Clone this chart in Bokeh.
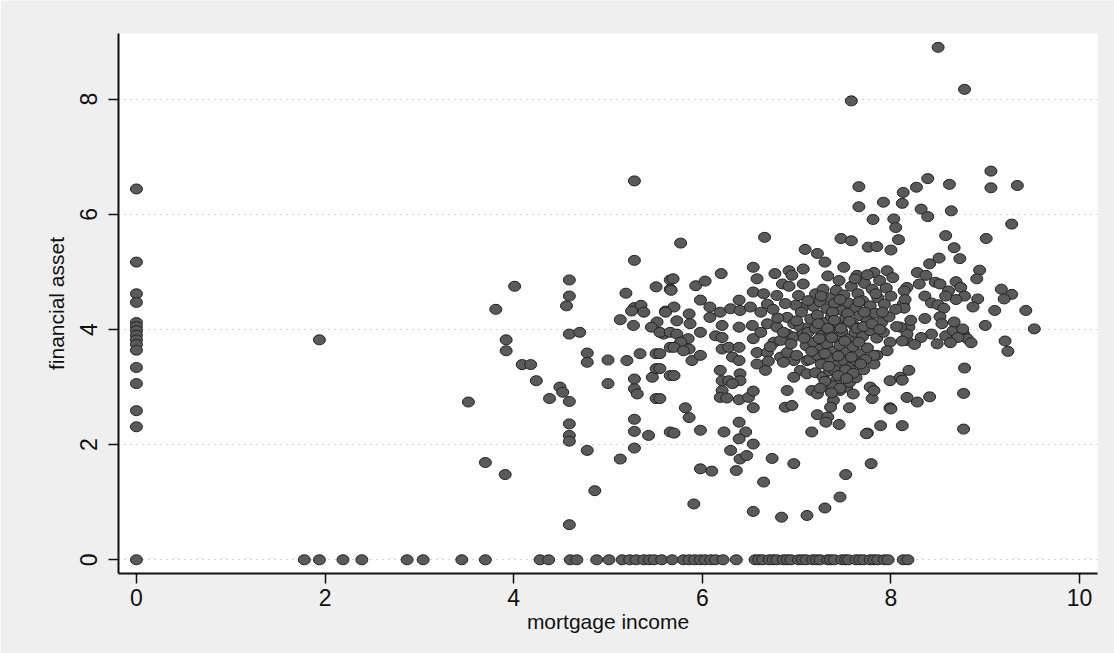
from bokeh.plotting import figure
from bokeh.models import Range1d, FixedTicker, ColumnDataSource
from bokeh.embed import file_html
from bokeh.resources import INLINE

# financial asset values of observations with zero mortgage income
zero_income_asset = [6.44, 5.17, 4.62, 4.47, 4.12, 4.05, 3.98, 3.90, 3.82, 3.74,
                     3.64, 3.34, 3.06, 2.59, 2.31]

# mortgage income values of observations with zero financial asset
zero_asset_income = [0.0, 1.78, 1.94, 2.19, 2.39, 2.87, 3.04, 3.45, 3.70, 4.28,
                     4.37, 4.60, 4.67, 4.88, 5.01, 5.15, 5.23, 5.30, 5.38, 5.44,
                     5.49, 5.57, 5.68, 5.80, 5.86, 5.92, 5.98, 6.03, 6.09, 6.14,
                     6.22, 6.36, 6.56, 6.60, 6.64, 6.71, 6.75, 6.79, 6.86, 6.90,
                     6.94, 7.02, 7.06, 7.10, 7.17, 7.21, 7.25, 7.33, 7.36, 7.40,
                     7.48, 7.52, 7.55, 7.63, 7.67, 7.71, 7.78, 7.82, 7.86, 7.93,
                     7.97, 8.13, 8.18]

# remaining observations: (mortgage income, financial asset)
income = [
    1.94, 3.52, 3.70, 3.91, 3.81, 4.01, 3.92, 3.92, 4.09, 4.18,
    4.24, 4.38, 4.49, 4.52, 4.59, 4.59, 4.59, 4.56, 4.59, 4.70,
    4.78, 4.78, 5.00, 5.20, 5.34, 5.51, 5.66, 4.59, 4.59, 4.59,
    4.78, 4.86, 4.59, 5.13, 5.00, 5.28, 5.28, 5.31, 5.47, 5.51,
    5.51, 5.66, 5.28, 5.28, 5.43, 5.28, 5.66, 5.28, 5.28, 5.19,
    5.51, 5.66, 5.66, 5.28, 5.35, 5.38, 5.25, 5.13, 5.27, 5.61,
    5.52, 5.46, 5.59,
    5.77, 6.66, 5.69, 6.20, 6.54, 6.58, 6.77, 6.92, 7.07, 6.95,
    5.93, 6.03, 5.67, 6.85, 6.92, 7.07, 5.98, 6.39, 6.54, 6.65,
    6.79, 6.69, 7.02, 7.07, 6.99, 5.70, 5.61, 5.73, 5.86, 5.87,
    6.08, 6.08, 6.19, 6.30, 6.40, 6.51, 6.62, 5.55, 5.66, 5.73,
    5.98, 5.85, 5.77, 5.70, 6.21, 6.14, 6.21, 6.39, 6.53, 6.69,
    6.79, 6.54, 6.90, 6.97, 7.04, 7.13, 6.90, 6.97, 7.07, 6.76,
    6.83, 5.86, 5.80, 5.89, 5.98, 6.21, 6.28, 6.32, 6.39, 6.39,
    6.58, 6.69, 6.58, 6.67, 6.83, 6.90, 6.97, 7.11, 7.04, 6.97,
    7.11, 6.86, 5.55, 5.55, 5.70, 6.19, 6.21, 6.28, 6.40, 6.40,
    6.32, 6.21, 5.55, 6.19, 6.26, 6.39, 6.49, 6.54, 6.54, 6.90,
    6.88, 6.95, 5.82, 5.86, 5.70, 5.98, 6.23, 6.39, 6.46, 6.39,
    6.54, 6.30, 6.40, 6.47, 6.36, 5.98, 6.10, 6.74, 6.97, 6.65,
    5.91, 6.54, 6.84, 7.11, 7.30, 7.46, 7.52, 7.79, 7.16, 7.75,
    7.89, 8.12, 7.45, 7.22, 7.33, 7.31, 7.56, 7.99, 8.17, 7.80,
    7.78, 7.82, 7.16, 7.22, 7.39, 7.36, 7.46, 7.53, 7.60, 7.32,
    7.99, 8.10, 8.19, 8.17, 8.19, 8.13, 8.17, 7.99, 7.96, 7.85,
    7.82,
    8.50, 8.78, 7.58, 7.66, 8.13, 7.92, 8.12, 7.66, 7.81, 8.03,
    8.05, 8.08, 7.47, 7.58, 7.76, 7.85, 8.00, 7.09, 7.22, 7.30,
    7.50, 7.64, 7.82, 7.96, 8.27, 8.39, 8.62, 9.06, 9.06, 9.34,
    9.28, 9.01, 8.64, 8.32, 8.39, 8.58, 8.67, 8.73, 8.51, 8.41,
    8.94, 8.91, 8.92, 8.87, 9.10, 9.17, 9.28, 9.20, 9.43, 9.52,
    9.00, 9.21, 9.24, 8.78, 8.77, 8.77, 8.41, 8.28, 8.00, 7.74,
    8.49, 8.58, 8.77, 8.81, 8.66,
    8.28, 8.37, 8.30, 8.47, 8.52, 8.69, 8.74, 8.78, 8.61, 8.69,
    8.58, 8.14, 8.15, 8.14, 8.36, 8.43, 8.50, 8.56, 8.52, 8.54,
    8.67, 8.76, 8.71, 8.85, 8.63, 8.21, 8.36, 8.43, 8.32, 8.25,
    8.17, 8.10, 8.12, 8.12,
    7.20, 7.28, 7.35, 7.42, 7.50, 7.58, 7.65, 7.72, 7.80, 7.88,
    7.95, 8.02, 7.62, 7.45, 7.33, 7.75,
    7.18, 7.25, 7.32, 7.40, 7.48, 7.55, 7.63, 7.70, 7.78, 7.86,
    7.93, 8.00, 8.05,
    7.15, 7.22, 7.30, 7.37, 7.44, 7.52, 7.60, 7.67, 7.75, 7.83,
    7.90, 7.98, 8.06,
    7.12, 7.20, 7.27, 7.34, 7.41, 7.48, 7.55, 7.62, 7.70, 7.78,
    7.85, 7.92,
    7.10, 7.18, 7.25, 7.32, 7.39, 7.46, 7.53, 7.60, 7.68, 7.75,
    7.82,
    7.14, 7.22, 7.29, 7.36, 7.43, 7.50, 7.57, 7.64, 7.71,
    7.20, 7.28, 7.35, 7.42, 7.49, 7.56, 7.63, 7.38, 7.46,
    7.05, 7.12, 7.26, 7.38, 7.46, 7.54, 7.66, 7.72, 7.84, 7.91,
    7.08, 7.16, 7.24, 7.30, 7.37, 7.44, 7.51, 7.58, 7.66, 7.73,
    7.23, 7.33, 7.40, 7.47, 7.56, 7.64, 7.71, 7.80, 7.88, 7.40,
    7.26, 7.34, 7.52, 7.60, 7.68, 7.30, 7.44, 7.53, 7.25, 7.37,
    6.62, 6.72, 6.80, 6.86, 6.94, 7.00, 6.75, 6.88, 7.00, 6.70,
]
asset = [
    3.82, 2.74, 1.69, 1.48, 4.35, 4.75, 3.82, 3.63, 3.39, 3.39,
    3.11, 2.80, 3.00, 2.91, 2.75, 4.86, 4.58, 4.41, 3.92, 3.95,
    3.59, 3.43, 3.47, 3.46, 3.58, 3.58, 3.69, 2.36, 2.16, 2.06,
    1.90, 1.20, 0.61, 1.75, 3.06, 3.14, 2.97, 2.88, 3.17, 3.32,
    2.80, 3.20, 2.44, 2.23, 2.16, 1.94, 2.22, 6.58, 5.20, 4.63,
    4.74, 4.86, 4.70, 4.38, 4.42, 4.30, 4.32, 4.17, 4.07, 4.32,
    4.13, 4.04, 3.92,
    5.50, 5.60, 4.88, 4.97, 5.08, 4.88, 4.97, 5.02, 5.05, 4.94,
    4.76, 4.84, 4.68, 4.79, 4.75, 4.79, 4.51, 4.51, 4.65, 4.62,
    4.59, 4.44, 4.59, 4.39, 4.42, 4.39, 4.30, 4.15, 4.27, 4.10,
    4.39, 4.21, 4.30, 4.36, 4.33, 4.39, 4.30, 3.95, 3.95, 3.92,
    3.95, 3.84, 3.78, 3.69, 4.07, 3.89, 3.86, 4.04, 4.07, 4.10,
    4.04, 3.84, 4.21, 4.10, 4.04, 4.04, 3.92, 3.87, 3.92, 3.78,
    3.81, 3.66, 3.63, 3.46, 3.55, 3.66, 3.69, 3.52, 3.46, 3.69,
    3.60, 3.60, 3.40, 3.29, 3.52, 3.60, 3.46, 3.46, 3.29, 3.17,
    3.23, 3.43, 3.58, 3.32, 3.20, 3.29, 3.11, 3.11, 3.23, 3.11,
    3.06, 2.94, 2.80, 2.82, 2.81, 2.78, 2.82, 2.93, 2.64, 2.94,
    2.65, 2.68, 2.64, 2.47, 2.20, 2.25, 2.22, 2.39, 2.22, 2.10,
    2.01, 1.90, 1.75, 1.81, 1.55, 1.58, 1.54, 1.76, 1.67, 1.35,
    0.97, 0.84, 0.74, 0.77, 0.90, 1.09, 1.48, 1.67, 2.22, 2.20,
    2.33, 2.33, 2.35, 2.52, 2.48, 2.39, 2.64, 2.64, 2.82, 2.80,
    3.00, 2.94, 2.94, 2.88, 2.77, 2.65, 2.94, 3.00, 2.88, 3.00,
    3.11, 3.17, 3.29, 3.81, 4.04, 4.44, 4.73, 3.78, 3.63, 3.55,
    3.40,
    8.90, 8.17, 7.97, 6.48, 6.38, 6.21, 6.19, 6.13, 5.91, 5.92,
    5.77, 5.56, 5.58, 5.54, 5.43, 5.44, 5.38, 5.39, 5.32, 5.17,
    5.08, 4.94, 4.99, 5.02, 6.47, 6.62, 6.52, 6.75, 6.46, 6.50,
    5.83, 5.58, 6.06, 6.09, 5.96, 5.63, 5.42, 5.23, 5.24, 5.14,
    5.03, 4.88, 4.53, 4.39, 4.33, 4.70, 4.61, 4.53, 4.33, 4.01,
    4.07, 3.80, 3.62, 3.33, 2.89, 2.27, 2.83, 2.74, 2.62, 2.19,
    3.75, 3.89, 3.92, 3.84, 3.98,
    4.99, 4.94, 4.79, 4.82, 4.79, 4.83, 4.73, 4.58, 4.67, 4.52,
    4.58, 4.67, 4.52, 4.37, 4.58, 4.46, 4.43, 4.37, 4.22, 4.10,
    4.13, 4.01, 3.86, 3.77, 3.77, 4.16, 4.19, 3.92, 3.86, 3.74,
    3.92, 4.04, 3.80, 3.12,
    4.62, 4.70, 4.55, 4.68, 4.60, 4.75, 4.62, 4.80, 4.70, 4.85,
    4.72, 4.90, 4.88, 4.85, 4.93, 4.95,
    4.40, 4.48, 4.36, 4.45, 4.33, 4.46, 4.38, 4.50, 4.41, 4.55,
    4.44, 4.58, 4.35,
    4.18, 4.25, 4.12, 4.22, 4.10, 4.20, 4.08, 4.24, 4.15, 4.28,
    4.12, 4.22, 4.05,
    3.95, 4.02, 3.90, 3.98, 3.86, 3.96, 3.84, 3.95, 3.88, 3.98,
    3.85, 3.95,
    3.72, 3.78, 3.66, 3.75, 3.62, 3.72, 3.60, 3.70, 3.58, 3.68,
    3.55,
    3.48, 3.55, 3.42, 3.50, 3.38, 3.46, 3.35, 3.44, 3.30,
    3.25, 3.18, 3.28, 3.12, 3.22, 3.08, 3.16, 3.02, 2.98,
    4.30, 4.50, 4.58, 4.30, 4.52, 4.28, 4.48, 4.30, 4.62, 4.30,
    3.85, 3.62, 3.84, 3.58, 3.86, 3.54, 3.80, 3.52, 3.78, 3.48,
    4.10, 4.02, 4.16, 4.02, 4.14, 4.02, 4.05, 4.10, 4.00, 3.30,
    3.40, 3.36, 3.30, 3.24, 3.40, 3.10, 3.20, 3.15, 2.98, 2.90,
    3.95, 3.70, 4.20, 3.95, 3.75, 4.15, 4.35, 4.45, 3.55, 3.45,
]

n = min(len(income), len(asset))
xs = [0.0] * len(zero_income_asset) + zero_asset_income + income[:n]
ys = zero_income_asset + [0.0] * len(zero_asset_income) + asset[:n]
src = ColumnDataSource(data=dict(x=xs, y=ys))

p = figure(width=1114, height=653, output_backend="svg", toolbar_location=None,
           x_range=Range1d(-0.19, 10.19), y_range=Range1d(-0.238, 9.14),
           min_border_left=118, min_border_right=17, min_border_top=33,
           min_border_bottom=80)

p.ellipse(x="x", y="y", width=12, height=10, width_units="screen",
          height_units="screen", fill_color="#5a5a5a", line_color="#222222",
          line_width=1, source=src)

p.xaxis.ticker = FixedTicker(ticks=[0, 2, 4, 6, 8, 10])
p.yaxis.ticker = FixedTicker(ticks=[0, 2, 4, 6, 8])
p.axis.minor_tick_line_color = None
p.axis.major_tick_out = 10
p.axis.major_tick_in = 0
p.axis.major_tick_line_color = "#111111"
p.axis.major_tick_line_width = 1.5
p.axis.axis_line_color = "#111111"
p.axis.axis_line_width = 2
p.axis.major_label_text_font = "Liberation Sans"
p.axis.major_label_text_font_size = "23px"
p.axis.major_label_text_color = "#111111"
p.xaxis.major_label_standoff = 5
p.yaxis.major_label_standoff = 11
p.yaxis.major_label_orientation = "vertical"
p.xaxis.axis_label = "mortgage income"
p.yaxis.axis_label = "financial asset"
p.axis.axis_label_text_font = "Liberation Sans"
p.axis.axis_label_text_font_size = "21px"
p.axis.axis_label_text_font_style = "normal"
p.axis.axis_label_text_color = "#111111"
p.xaxis.axis_label_standoff = 1
p.yaxis.axis_label_standoff = 10

p.xgrid.grid_line_color = None
p.ygrid.grid_line_color = "#a8a8a8"
p.ygrid.grid_line_dash = "1 5"
p.ygrid.grid_line_width = 1
p.outline_line_color = None
p.background_fill_color = "white"
p.border_fill_color = "#efefef"

open("out.html", "w").write(file_html(p, INLINE))
